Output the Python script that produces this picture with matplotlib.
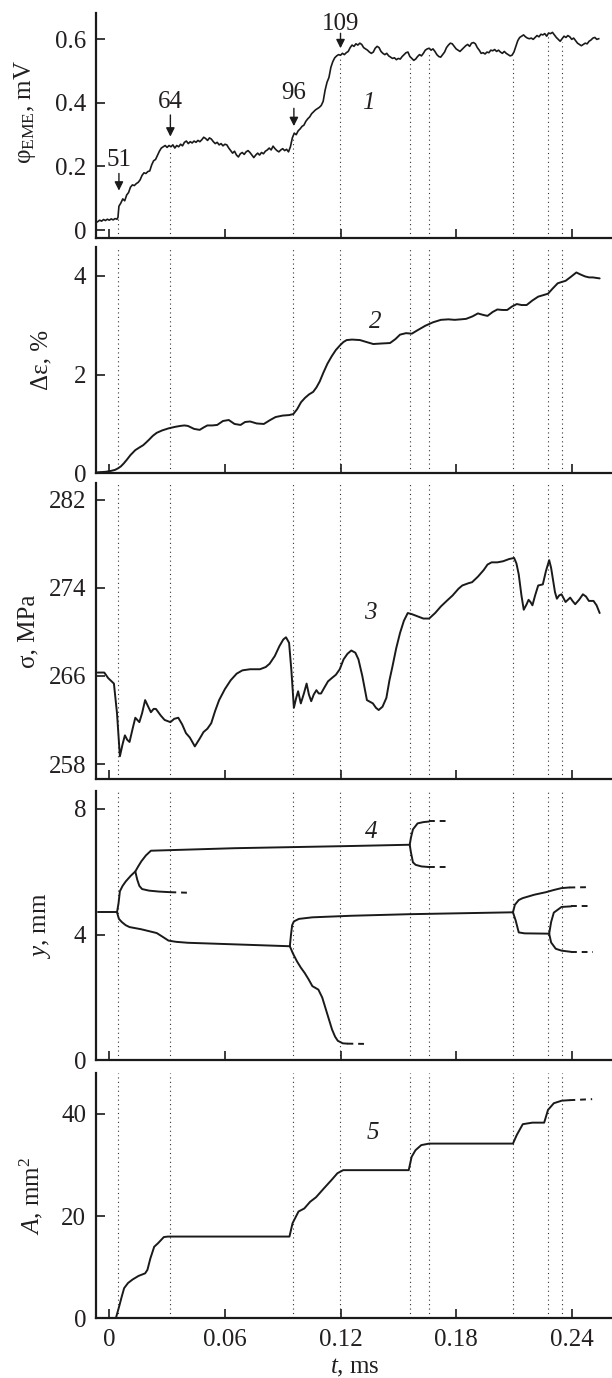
import numpy as np
import matplotlib
matplotlib.use('Agg')
import matplotlib.pyplot as plt

plt.rcParams['font.family'] = ['Liberation Serif', 'DejaVu Serif']
plt.rcParams['mathtext.fontset'] = 'custom'
plt.rcParams['mathtext.rm'] = 'Liberation Serif'
plt.rcParams['mathtext.it'] = 'Liberation Serif:italic'
plt.rcParams['mathtext.bf'] = 'Liberation Serif:bold'
plt.rcParams['font.size'] = 18

# ---------------- data ----------------
# panel 1: EME potential, mV
phi_t = [-0.0061, -0.0050, -0.0040, -0.0030, -0.0020, -0.0010, 0.0000, 0.0010, 0.0020, 0.0030,
         0.0040, 0.0045, 0.0050, 0.0060, 0.0070, 0.0080, 0.0090, 0.0100, 0.0110, 0.0120,
         0.0130, 0.0140, 0.0150, 0.0160, 0.0170, 0.0180, 0.0190, 0.0200, 0.0210, 0.0220,
         0.0230, 0.0240, 0.0250, 0.0260, 0.0270, 0.0280, 0.0290, 0.0300, 0.0310, 0.0320,
         0.0330, 0.0340, 0.0350, 0.0360, 0.0370, 0.0380, 0.0390, 0.0400, 0.0410, 0.0420,
         0.0430, 0.0440, 0.0450, 0.0460, 0.0470, 0.0480, 0.0490, 0.0500, 0.0510, 0.0520,
         0.0530, 0.0540, 0.0550, 0.0560, 0.0570, 0.0580, 0.0590, 0.0600, 0.0610, 0.0620,
         0.0630, 0.0640, 0.0650, 0.0660, 0.0670, 0.0680, 0.0690, 0.0700, 0.0710, 0.0720,
         0.0730, 0.0740, 0.0750, 0.0760, 0.0770, 0.0780, 0.0790, 0.0800, 0.0810, 0.0820,
         0.0830, 0.0840, 0.0850, 0.0860, 0.0870, 0.0880, 0.0890, 0.0900, 0.0910, 0.0920,
         0.0930, 0.0940, 0.0950, 0.0960, 0.0970, 0.0980, 0.0990, 0.1000, 0.1010, 0.1020,
         0.1030, 0.1040, 0.1050, 0.1060, 0.1070, 0.1080, 0.1090, 0.1100, 0.1110, 0.1120,
         0.1130, 0.1140, 0.1150, 0.1160, 0.1170, 0.1180, 0.1190, 0.1200, 0.1210, 0.1220,
         0.1230, 0.1240, 0.1250, 0.1260, 0.1270, 0.1280, 0.1290, 0.1300, 0.1310, 0.1320,
         0.1330, 0.1340, 0.1350, 0.1360, 0.1370, 0.1380, 0.1390, 0.1400, 0.1410, 0.1420,
         0.1430, 0.1440, 0.1450, 0.1460, 0.1470, 0.1480, 0.1490, 0.1500, 0.1510, 0.1520,
         0.1530, 0.1540, 0.1550, 0.1560, 0.1570, 0.1580, 0.1590, 0.1600, 0.1610, 0.1620,
         0.1630, 0.1640, 0.1650, 0.1660, 0.1670, 0.1680, 0.1690, 0.1700, 0.1710, 0.1720,
         0.1730, 0.1740, 0.1750, 0.1760, 0.1770, 0.1780, 0.1790, 0.1800, 0.1810, 0.1820,
         0.1830, 0.1840, 0.1850, 0.1860, 0.1870, 0.1880, 0.1890, 0.1900, 0.1910, 0.1920,
         0.1930, 0.1940, 0.1950, 0.1960, 0.1970, 0.1980, 0.1990, 0.2000, 0.2010, 0.2020,
         0.2030, 0.2040, 0.2050, 0.2060, 0.2070, 0.2080, 0.2090, 0.2100, 0.2110, 0.2120,
         0.2130, 0.2140, 0.2150, 0.2160, 0.2170, 0.2180, 0.2190, 0.2200, 0.2210, 0.2220,
         0.2230, 0.2240, 0.2250, 0.2260, 0.2270, 0.2280, 0.2290, 0.2300, 0.2310, 0.2320,
         0.2330, 0.2340, 0.2350, 0.2360, 0.2370, 0.2380, 0.2390, 0.2400, 0.2410, 0.2420,
         0.2430, 0.2440, 0.2450, 0.2460, 0.2470, 0.2480, 0.2490, 0.2500, 0.2510, 0.2520,
         0.2530, 0.2540]
phi_v = [0.026, 0.031, 0.028, 0.033, 0.030, 0.034, 0.031, 0.035, 0.032, 0.036,
         0.034, 0.040, 0.075, 0.085, 0.098, 0.092, 0.110, 0.118, 0.135, 0.142,
         0.140, 0.146, 0.150, 0.158, 0.172, 0.180, 0.178, 0.184, 0.186, 0.205,
         0.218, 0.222, 0.235, 0.248, 0.258, 0.262, 0.266, 0.260, 0.266, 0.262,
         0.268, 0.258, 0.266, 0.262, 0.270, 0.265, 0.276, 0.280, 0.272, 0.278,
         0.274, 0.280, 0.276, 0.282, 0.278, 0.284, 0.292, 0.288, 0.282, 0.290,
         0.286, 0.278, 0.272, 0.276, 0.268, 0.272, 0.265, 0.270, 0.268, 0.258,
         0.250, 0.242, 0.248, 0.236, 0.230, 0.240, 0.244, 0.238, 0.246, 0.250,
         0.244, 0.236, 0.228, 0.236, 0.242, 0.236, 0.244, 0.240, 0.248, 0.252,
         0.258, 0.252, 0.264, 0.256, 0.250, 0.246, 0.252, 0.256, 0.250, 0.254,
         0.246, 0.262, 0.290, 0.305, 0.300, 0.312, 0.318, 0.326, 0.330, 0.342,
         0.350, 0.356, 0.366, 0.372, 0.378, 0.382, 0.386, 0.392, 0.405, 0.440,
         0.465, 0.480, 0.512, 0.530, 0.542, 0.548, 0.552, 0.550, 0.556, 0.552,
         0.558, 0.562, 0.574, 0.582, 0.578, 0.586, 0.582, 0.588, 0.584, 0.574,
         0.570, 0.566, 0.560, 0.556, 0.560, 0.572, 0.578, 0.574, 0.562, 0.556,
         0.552, 0.556, 0.548, 0.544, 0.540, 0.542, 0.536, 0.540, 0.538, 0.546,
         0.552, 0.558, 0.560, 0.546, 0.540, 0.534, 0.538, 0.546, 0.552, 0.548,
         0.556, 0.566, 0.570, 0.572, 0.566, 0.570, 0.562, 0.552, 0.546, 0.544,
         0.552, 0.560, 0.574, 0.582, 0.588, 0.586, 0.578, 0.570, 0.566, 0.562,
         0.568, 0.574, 0.580, 0.584, 0.578, 0.588, 0.590, 0.586, 0.574, 0.566,
         0.556, 0.558, 0.554, 0.560, 0.558, 0.566, 0.564, 0.568, 0.562, 0.566,
         0.560, 0.556, 0.562, 0.556, 0.552, 0.548, 0.550, 0.560, 0.578, 0.596,
         0.606, 0.610, 0.614, 0.608, 0.604, 0.602, 0.604, 0.600, 0.606, 0.612,
         0.608, 0.616, 0.614, 0.618, 0.610, 0.620, 0.618, 0.622, 0.614, 0.606,
         0.600, 0.594, 0.602, 0.610, 0.606, 0.612, 0.608, 0.600, 0.604, 0.596,
         0.588, 0.584, 0.580, 0.584, 0.588, 0.586, 0.594, 0.598, 0.604, 0.606,
         0.600, 0.602]

# panel 2: strain increment, %
eps_t = [-0.0061, -0.0020, 0.0010, 0.0030, 0.0045, 0.0060, 0.0075, 0.0090, 0.0110, 0.0135,
         0.0155, 0.0176, 0.0190, 0.0206, 0.0226, 0.0246, 0.0275, 0.0307, 0.0340, 0.0368,
         0.0390, 0.0408, 0.0440, 0.0469, 0.0490, 0.0509, 0.0535, 0.0560, 0.0590, 0.0620,
         0.0650, 0.0681, 0.0705, 0.0731, 0.0765, 0.0802, 0.0835, 0.0863, 0.0900, 0.0933,
         0.0955, 0.0975, 0.0995, 0.1016, 0.1037, 0.1058, 0.1075, 0.1092, 0.1110, 0.1132,
         0.1154, 0.1176, 0.1199, 0.1215, 0.1232, 0.1260, 0.1301, 0.1335, 0.1370, 0.1410,
         0.1457, 0.1485, 0.1509, 0.1540, 0.1570, 0.1600, 0.1640, 0.1680, 0.1721, 0.1760,
         0.1792, 0.1825, 0.1852, 0.1885, 0.1913, 0.1940, 0.1963, 0.1990, 0.2014, 0.2040,
         0.2065, 0.2090, 0.2115, 0.2140, 0.2166, 0.2195, 0.2226, 0.2252, 0.2277, 0.2300,
         0.2327, 0.2350, 0.2368, 0.2395, 0.2424, 0.2445, 0.2469, 0.2490, 0.2509, 0.2545]
eps_v = [0.02, 0.03, 0.05, 0.07, 0.10, 0.14, 0.20, 0.27, 0.37, 0.47,
         0.52, 0.57, 0.62, 0.68, 0.76, 0.82, 0.87, 0.91, 0.94, 0.96,
         0.97, 0.96, 0.90, 0.88, 0.93, 0.97, 0.97, 0.98, 1.06, 1.08,
         1.00, 0.98, 1.04, 1.05, 1.01, 1.00, 1.08, 1.14, 1.17, 1.18,
         1.20, 1.30, 1.44, 1.53, 1.60, 1.65, 1.74, 1.86, 2.03, 2.22,
         2.37, 2.50, 2.60, 2.66, 2.70, 2.71, 2.70, 2.66, 2.62, 2.63,
         2.64, 2.72, 2.81, 2.84, 2.83, 2.90, 2.99, 3.06, 3.11, 3.12,
         3.11, 3.12, 3.13, 3.18, 3.24, 3.21, 3.19, 3.27, 3.32, 3.31,
         3.31, 3.38, 3.43, 3.41, 3.41, 3.50, 3.58, 3.61, 3.64, 3.74,
         3.85, 3.88, 3.90, 3.98, 4.07, 4.03, 3.99, 3.97, 3.97, 3.95]

# panel 3: stress, MPa
sig_t = [-0.0061, -0.0026, -0.0006, 0.0024, 0.0040, 0.0055, 0.0069, 0.0081, 0.0093, 0.0105,
         0.0121, 0.0135, 0.0156, 0.0170, 0.0186, 0.0202, 0.0216, 0.0230, 0.0242, 0.0267,
         0.0287, 0.0317, 0.0337, 0.0358, 0.0378, 0.0398, 0.0418, 0.0444, 0.0469, 0.0489,
         0.0509, 0.0529, 0.0549, 0.0570, 0.0600, 0.0630, 0.0661, 0.0691, 0.0731, 0.0782,
         0.0812, 0.0832, 0.0859, 0.0883, 0.0903, 0.0917, 0.0933, 0.0945, 0.0958, 0.0970,
         0.0980, 0.0994, 0.1010, 0.1024, 0.1036, 0.1048, 0.1061, 0.1075, 0.1087, 0.1099,
         0.1115, 0.1135, 0.1155, 0.1176, 0.1196, 0.1216, 0.1236, 0.1256, 0.1277, 0.1293,
         0.1313, 0.1337, 0.1368, 0.1384, 0.1398, 0.1418, 0.1438, 0.1454, 0.1469, 0.1489,
         0.1509, 0.1529, 0.1549, 0.1570, 0.1600, 0.1630, 0.1660, 0.1691, 0.1721, 0.1751,
         0.1782, 0.1812, 0.1832, 0.1863, 0.1883, 0.1913, 0.1943, 0.1963, 0.1984, 0.2014,
         0.2044, 0.2075, 0.2101, 0.2113, 0.2125, 0.2139, 0.2151, 0.2166, 0.2176, 0.2186,
         0.2196, 0.2210, 0.2226, 0.2250, 0.2266, 0.2283, 0.2293, 0.2303, 0.2313, 0.2323,
         0.2335, 0.2347, 0.2368, 0.2380, 0.2392, 0.2404, 0.2418, 0.2438, 0.2458, 0.2474,
         0.2489, 0.2513, 0.2529, 0.2545]
sig_v = [266.3, 266.3, 265.8, 265.3, 262.6, 258.7, 259.8, 260.6, 260.2, 260.0,
         261.2, 262.2, 261.8, 262.6, 263.8, 263.2, 262.7, 263.0, 263.0, 262.4,
         262.0, 261.8, 262.1, 262.2, 261.6, 260.8, 260.4, 259.6, 260.3, 260.9,
         261.2, 261.7, 262.8, 263.8, 264.8, 265.6, 266.2, 266.5, 266.6, 266.6,
         266.8, 267.1, 267.8, 268.7, 269.3, 269.5, 269.0, 266.5, 263.1, 264.0,
         264.6, 263.5, 264.4, 265.3, 264.3, 263.7, 264.3, 264.7, 264.4, 264.4,
         264.9, 265.5, 265.8, 266.1, 266.6, 267.5, 268.0, 268.3, 268.1, 267.5,
         266.0, 263.8, 263.5, 263.1, 262.9, 263.2, 264.0, 265.6, 266.8, 268.5,
         269.9, 271.0, 271.7, 271.6, 271.4, 271.2, 271.2, 271.7, 272.3, 272.8,
         273.3, 273.9, 274.2, 274.4, 274.5, 275.0, 275.6, 276.1, 276.3, 276.3,
         276.4, 276.6, 276.7, 276.2, 275.2, 273.3, 272.0, 272.5, 272.9, 272.7,
         272.4, 273.3, 274.2, 274.3, 275.5, 276.5, 275.8, 274.7, 273.6, 273.0,
         273.3, 273.4, 272.7, 272.9, 273.1, 272.8, 272.5, 272.9, 273.4, 273.2,
         272.8, 272.8, 272.4, 271.7]

# panel 4: crack-branch coordinates y, mm (solid parts, then dashed continuations)
trunk_t = [-0.0061, 0.0040]
trunk_y = [4.71, 4.71]
upA_t = [0.0040, 0.0048, 0.0055, 0.0069, 0.0085, 0.0111, 0.0135, 0.0150, 0.0166, 0.0190,
         0.0216, 0.0650, 0.1256, 0.1559]
upA_y = [4.71, 5.00, 5.38, 5.55, 5.69, 5.87, 6.01, 6.17, 6.33, 6.52,
         6.67, 6.75, 6.82, 6.86]
sideA_t = [0.0135, 0.0145, 0.0156, 0.0170, 0.0206, 0.0257, 0.0317]
sideA_y = [6.01, 5.75, 5.55, 5.45, 5.40, 5.37, 5.35]
topA_t = [0.1559, 0.1566, 0.1576, 0.1600, 0.1630, 0.1660]
topA_y = [6.86, 7.10, 7.35, 7.54, 7.58, 7.60]
botA_t = [0.1559, 0.1566, 0.1576, 0.1590, 0.1620, 0.1660]
botA_y = [6.86, 6.60, 6.30, 6.22, 6.17, 6.15]
lowB_t = [0.0040, 0.0050, 0.0065, 0.0085, 0.0105, 0.0166, 0.0246, 0.0277, 0.0307, 0.0347,
          0.0408, 0.0650, 0.0937]
lowB_y = [4.71, 4.50, 4.40, 4.30, 4.24, 4.17, 4.05, 3.93, 3.81, 3.77,
          3.74, 3.69, 3.63]
midB_t = [0.0937, 0.0943, 0.0949, 0.0958, 0.0984, 0.1054, 0.1256, 0.1559, 0.2095]
midB_y = [3.63, 4.00, 4.30, 4.42, 4.50, 4.55, 4.60, 4.65, 4.71]
dropB_t = [0.0937, 0.0953, 0.0974, 0.0994, 0.1014, 0.1034, 0.1054, 0.1085, 0.1105, 0.1125,
           0.1156, 0.1172, 0.1186, 0.1212, 0.1236]
dropB_y = [3.63, 3.40, 3.15, 2.95, 2.78, 2.58, 2.36, 2.25, 2.00, 1.60,
           0.98, 0.75, 0.62, 0.54, 0.53]
upC_t = [0.2095, 0.2105, 0.2125, 0.2145, 0.2206, 0.2266, 0.2307, 0.2347, 0.2388]
upC_y = [4.71, 4.95, 5.10, 5.16, 5.27, 5.35, 5.42, 5.48, 5.50]
lowC_t = [0.2095, 0.2109, 0.2125, 0.2155, 0.2283]
lowC_y = [4.71, 4.45, 4.07, 4.04, 4.03]
upD_t = [0.2283, 0.2293, 0.2307, 0.2347, 0.2398]
upD_y = [4.03, 4.40, 4.70, 4.88, 4.90]
lowD_t = [0.2283, 0.2293, 0.2317, 0.2347, 0.2398]
lowD_y = [4.03, 3.75, 3.55, 3.49, 3.45]
# dashed continuations: start t, end t, start y, end y
dash_t0 = [0.0317, 0.1660, 0.1660, 0.1236, 0.2388, 0.2398, 0.2398]
dash_t1 = [0.0422, 0.1761, 0.1761, 0.1347, 0.2489, 0.2505, 0.2509]
dash_y0 = [5.35, 7.60, 6.15, 0.53, 5.50, 4.90, 3.45]
dash_y1 = [5.33, 7.60, 6.15, 0.52, 5.51, 4.90, 3.45]

# panel 5: crack area A, mm^2
area_t = [0.0034, 0.0051, 0.0065, 0.0077, 0.0097, 0.0121, 0.0152, 0.0186, 0.0198, 0.0213,
          0.0233, 0.0253, 0.0283, 0.0304, 0.0935, 0.0951, 0.0982, 0.1012, 0.1042, 0.1073,
          0.1113, 0.1154, 0.1184, 0.1214, 0.1554, 0.1569, 0.1589, 0.1619, 0.1660, 0.2095,
          0.2115, 0.2146, 0.2196, 0.2257, 0.2277, 0.2307, 0.2348, 0.2388]
area_v = [0.0, 2.3, 4.3, 5.9, 6.9, 7.6, 8.3, 8.8, 9.5, 11.7,
          14.0, 14.7, 15.9, 16.0, 16.0, 18.6, 20.9, 21.5, 22.8, 23.7,
          25.4, 27.1, 28.4, 29.0, 29.0, 31.6, 32.9, 33.9, 34.2, 34.2,
          35.9, 38.0, 38.3, 38.3, 40.8, 42.1, 42.6, 42.7]
area_dash_t = [0.2388, 0.2506]
area_dash_v = [42.7, 42.9]

# event times (dotted lines), ms
event_t = [0.00465, 0.0314, 0.0955, 0.1198, 0.1560, 0.1661, 0.2097, 0.2279, 0.2351]

# frame-number arrows in panel 1
frame_labels = ['51', '64', '96', '109']
frame_t = [0.0050, 0.0317, 0.0958, 0.1200]
frame_tip = [0.124, 0.294, 0.327, 0.572]
frame_tail = [0.178, 0.362, 0.383, 0.619]
frame_text_y = [0.220, 0.404, 0.430, 0.648]

xticks = [0, 0.06, 0.12, 0.18, 0.24]
xticklabels = ['0', '0.06', '0.12', '0.18', '0.24']

# ---------------- layout ----------------
W, H = 612, 1378
fig = plt.figure(figsize=(W / 100, H / 100), dpi=100)
LINE = '#1a1a1a'
TXT = '#231f20'


def rect(top, bottom):
    return [96 / W, (H - bottom) / H, 516 / W, (bottom - top) / H]


panels = [
    dict(r=rect(13.3, 238.3), ylim=(-0.026, 0.682), yt=[0, 0.2, 0.4, 0.6], ytl=['0', '0.2', '0.4', '0.6'],
         ylabel=r'φ$_{\mathrm{EME}}$, mV', lx=-0.137, ly=0.56),
    dict(r=rect(247.3, 473.3), ylim=(0, 4.58), yt=[0, 2, 4], ytl=['0', '2', '4'],
         ylabel='Δε, %', lx=-0.105, ly=0.5),
    dict(r=rect(483.0, 779.0), ylim=(256.64, 283.5), yt=[258, 266, 274, 282], ytl=['258', '266', '274', '282'],
         ylabel='σ, MPa', lx=-0.131, ly=0.5),
    dict(r=rect(790.7, 1060.3), ylim=(0, 8.58), yt=[0, 4, 8], ytl=['0', '4', '8'],
         ylabel=r'$y$, mm', lx=-0.105, ly=0.5),
    dict(r=rect(1073.3, 1318.3), ylim=(0, 47.96), yt=[0, 20, 40], ytl=['0', '20', '40'],
         ylabel=r'$A$, mm$^2$', lx=-0.125, ly=0.5),
]

axes = []
for i, p in enumerate(panels):
    ax = fig.add_axes(p['r'])
    ax.set_xlim(-0.0069, 0.2609)
    ax.set_ylim(*p['ylim'])
    ax.set_yticks(p['yt'])
    ax.set_yticklabels(p['ytl'])
    ax.set_xticks(xticks)
    if i == 4:
        ax.set_xticklabels(xticklabels)
    else:
        ax.set_xticklabels([])
    for s in ['top', 'right']:
        ax.spines[s].set_visible(False)
    for s in ['left', 'bottom']:
        ax.spines[s].set_linewidth(1.6)
        ax.spines[s].set_color(LINE)
    ax.tick_params(axis='both', direction='in', length=6.5, width=1.2, colors=LINE,
                   labelcolor=TXT, labelsize=18)
    ax.tick_params(axis='y', pad=7)
    ax.tick_params(axis='x', pad=8)
    ax.set_ylabel(p['ylabel'], fontsize=18, color=TXT, va='center')
    ax.yaxis.set_label_coords(p['lx'], p['ly'])
    ax.patch.set_visible(False)
    axes.append(ax)

ax1, ax2, ax3, ax4, ax5 = axes

dot_kw = dict(color='#333333', lw=0.8, linestyle=(0, (1.0, 3.0)), zorder=1)
line_kw = dict(color=LINE, lw=1.4, zorder=3, solid_joinstyle='round', solid_capstyle='round')
dash_kw = dict(color=LINE, lw=1.4, linestyle=(0, (3.0, 2.5)), zorder=3)

# dotted event lines
for t in event_t:
    top = float(np.interp(t, phi_t, phi_v))
    ax1.plot([t, t], [ax1.get_ylim()[0], top - 0.01], **dot_kw)
    for ax in axes[1:]:
        ax.axvline(t, **dot_kw)

# panel 1
ax1.plot(phi_t, phi_v, color=LINE, lw=1.2, zorder=3)
for lab, t, tip, tail, ty in zip(frame_labels, frame_t, frame_tip, frame_tail, frame_text_y):
    ax1.annotate('', xy=(t, tip), xytext=(t, tail),
                 arrowprops=dict(arrowstyle='-|>', color=LINE, lw=1.0, mutation_scale=13,
                                 shrinkA=0, shrinkB=0))
    ax1.text(t, ty, lab, ha='center', va='center', fontsize=18, color=TXT)
ax1.text(0.1347, 0.399, '1', ha='center', va='center', fontsize=18, style='italic', color=TXT)

# panel 2
ax2.plot(eps_t, eps_v, **line_kw)
ax2.text(0.1378, 3.07, '2', ha='center', va='center', fontsize=18, style='italic', color=TXT)

# panel 3
ax3.plot(sig_t, sig_v, **line_kw)
ax3.text(0.1357, 271.7, '3', ha='center', va='center', fontsize=18, style='italic', color=TXT)

# panel 4
for bt, by in [(trunk_t, trunk_y), (upA_t, upA_y), (sideA_t, sideA_y), (topA_t, topA_y),
               (botA_t, botA_y), (lowB_t, lowB_y), (midB_t, midB_y), (dropB_t, dropB_y),
               (upC_t, upC_y), (lowC_t, lowC_y), (upD_t, upD_y), (lowD_t, lowD_y)]:
    ax4.plot(bt, by, **line_kw)
for t0, t1, y0, y1 in zip(dash_t0, dash_t1, dash_y0, dash_y1):
    ax4.plot([t0, t1], [y0, y1], **dash_kw)
ax4.text(0.1357, 7.28, '4', ha='center', va='center', fontsize=18, style='italic', color=TXT)

# panel 5
ax5.plot(area_t, area_v, **line_kw)
ax5.plot(area_dash_t, area_dash_v, **dash_kw)
ax5.text(0.1366, 36.2, '5', ha='center', va='center', fontsize=18, style='italic', color=TXT)
ax5.set_xlabel(r'$t$, ms', fontsize=18, color=TXT, va='center')
ax5.xaxis.set_label_coords(0.502, -0.203)

fig.savefig('out.png', dpi=100)
